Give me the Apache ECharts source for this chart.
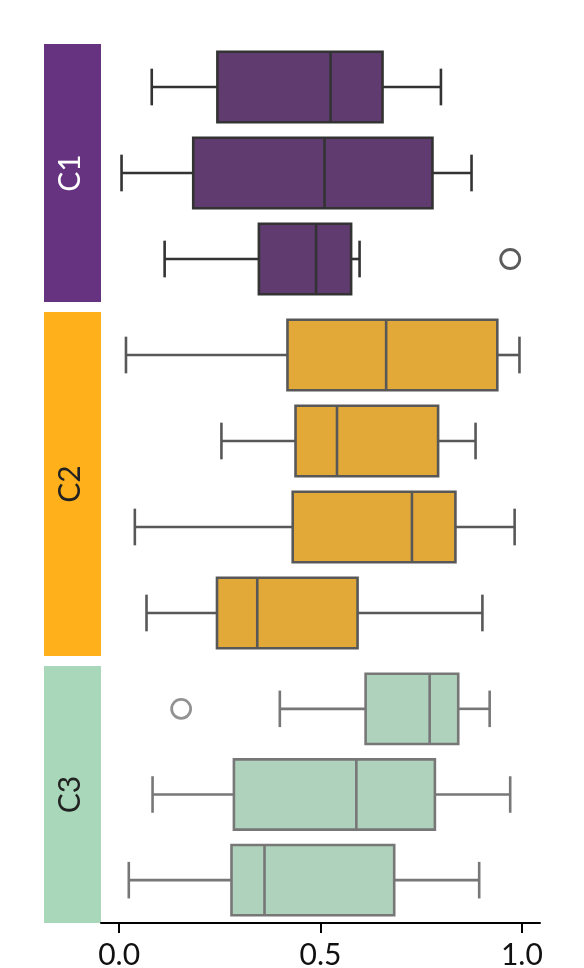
<!DOCTYPE html>
<html>
<head>
<meta charset="utf-8">
<script src="https://cdn.jsdelivr.net/npm/echarts@6/dist/echarts.min.js"></script>
<style>
  html, body { margin: 0; padding: 0; background: #fff; }
  #chart { width: 584px; height: 968px; }
</style>
</head>
<body>
<div id="chart"></div>
<script>
// groups shown as coloured strips on the left
const groups = ['C1', 'C2', 'C3'];

// box stats per row: [low whisker, Q1, median, Q3, high whisker]
const c1Boxes = [
  [0.081, 0.244, 0.525, 0.654, 0.799],
  [0.006, 0.184, 0.510, 0.778, 0.875],
  [0.113, 0.347, 0.489, 0.576, 0.597]
];
const c2Boxes = [
  [0.017, 0.418, 0.663, 0.939, 0.994],
  [0.254, 0.438, 0.541, 0.792, 0.885],
  [0.039, 0.431, 0.727, 0.835, 0.982],
  [0.068, 0.243, 0.343, 0.592, 0.902]
];
const c3Boxes = [
  [0.399, 0.612, 0.771, 0.842, 0.920],
  [0.083, 0.285, 0.589, 0.784, 0.971],
  [0.024, 0.279, 0.361, 0.683, 0.894]
];
// outliers: [row index, value]
const c1Outliers = [[2, 0.971]];
const c2Outliers = [];
const c3Outliers = [[0, 0.154]];

const xTicks = [0, 0.5, 1.0];

const stripColors = ['#663380', '#FFB01B', '#A8D8B9'];
const boxColors = ['#5F3B70', '#E2A838', '#AFD2BC'];
const edgeColors = ['#333333', '#585858', '#777777'];
const labelColors = ['#ffffff', '#222222', '#222222'];

const allBoxes = [c1Boxes, c2Boxes, c3Boxes];
const allOutliers = [c1Outliers, c2Outliers, c3Outliers];

// layout
const plotLeft = 101, plotRight = 44, stripW = 57;
const grids = [
  { top: 44, height: 258 },
  { top: 312, height: 344 },
  { top: 666, height: 257 }
];
const xMin = -0.045, xMax = 1.045;
const font = 'Lato, "DejaVu Sans", sans-serif';
const lw = 2.6;

function boxRenderer(gi) {
  return function (params, api) {
    const row = api.value(0);
    const lo = api.value(1), q1 = api.value(2), med = api.value(3), q3 = api.value(4), hi = api.value(5);
    const band = api.size([0, 1])[1];
    const bh = band * 0.82;
    const cap = bh * 0.52;
    const pLo = api.coord([lo, row]);
    const pQ1 = api.coord([q1, row]);
    const pMed = api.coord([med, row]);
    const pQ3 = api.coord([q3, row]);
    const pHi = api.coord([hi, row]);
    const y = pQ1[1];
    const ls = { stroke: edgeColors[gi], lineWidth: lw, fill: null };
    return {
      type: 'group',
      children: [
        { type: 'line', shape: { x1: pLo[0], y1: y, x2: pQ1[0], y2: y }, style: ls },
        { type: 'line', shape: { x1: pQ3[0], y1: y, x2: pHi[0], y2: y }, style: ls },
        { type: 'line', shape: { x1: pLo[0], y1: y - cap / 2, x2: pLo[0], y2: y + cap / 2 }, style: ls },
        { type: 'line', shape: { x1: pHi[0], y1: y - cap / 2, x2: pHi[0], y2: y + cap / 2 }, style: ls },
        { type: 'rect', shape: { x: pQ1[0], y: y - bh / 2, width: pQ3[0] - pQ1[0], height: bh },
          style: { fill: boxColors[gi], stroke: edgeColors[gi], lineWidth: lw } },
        { type: 'line', shape: { x1: pMed[0], y1: y - bh / 2, x2: pMed[0], y2: y + bh / 2 }, style: ls }
      ]
    };
  };
}

const option = {
  backgroundColor: '#fff',
  animation: false,
  grid: grids.map(g => ({ left: plotLeft, right: plotRight, top: g.top, height: g.height, outerBoundsMode: 'none', containLabel: false })),
  xAxis: grids.map((g, i) => ({
    type: 'value', gridIndex: i, min: xMin, max: xMax,
    show: i === grids.length - 1,
    splitLine: { show: false },
    axisLine: { show: true, lineStyle: { color: '#000', width: 2 } },
    axisTick: { show: true, customValues: xTicks, length: 10, lineStyle: { color: '#000', width: 2 } },
    axisLabel: { customValues: xTicks, formatter: v => v.toFixed(1), color: '#111', fontSize: 30, fontFamily: font, margin: 17 }
  })),
  yAxis: grids.map((g, i) => ({
    type: 'category', gridIndex: i, inverse: true,
    data: allBoxes[i].map((b, r) => r),
    show: false
  })),
  graphic: grids.map((g, i) => ({
    type: 'group',
    children: [
      { type: 'rect', shape: { x: plotLeft - stripW, y: g.top, width: stripW, height: g.height }, style: { fill: stripColors[i] } },
      { type: 'text', x: plotLeft - stripW / 2 - 2, y: g.top + g.height / 2, rotation: Math.PI / 2,
        style: { text: groups[i], fill: labelColors[i], font: '30px ' + font, align: 'center', verticalAlign: 'middle' } }
    ]
  })),
  series: []
};

allBoxes.forEach((boxes, i) => {
  option.series.push({
    type: 'custom', xAxisIndex: i, yAxisIndex: i,
    renderItem: boxRenderer(i),
    encode: { x: [1, 2, 3, 4, 5], y: 0 },
    data: boxes.map((b, r) => [r].concat(b))
  });
  option.series.push({
    type: 'scatter', xAxisIndex: i, yAxisIndex: i,
    symbol: 'circle', symbolSize: 19,
    itemStyle: { color: '#fff', borderColor: edgeColors[i], borderWidth: 2.8 },
    data: allOutliers[i].map(o => [o[1], o[0]])
  });
});

const chart = echarts.init(document.getElementById('chart'), null, { renderer: 'canvas' });
chart.setOption(option);
</script>
</body>
</html>
